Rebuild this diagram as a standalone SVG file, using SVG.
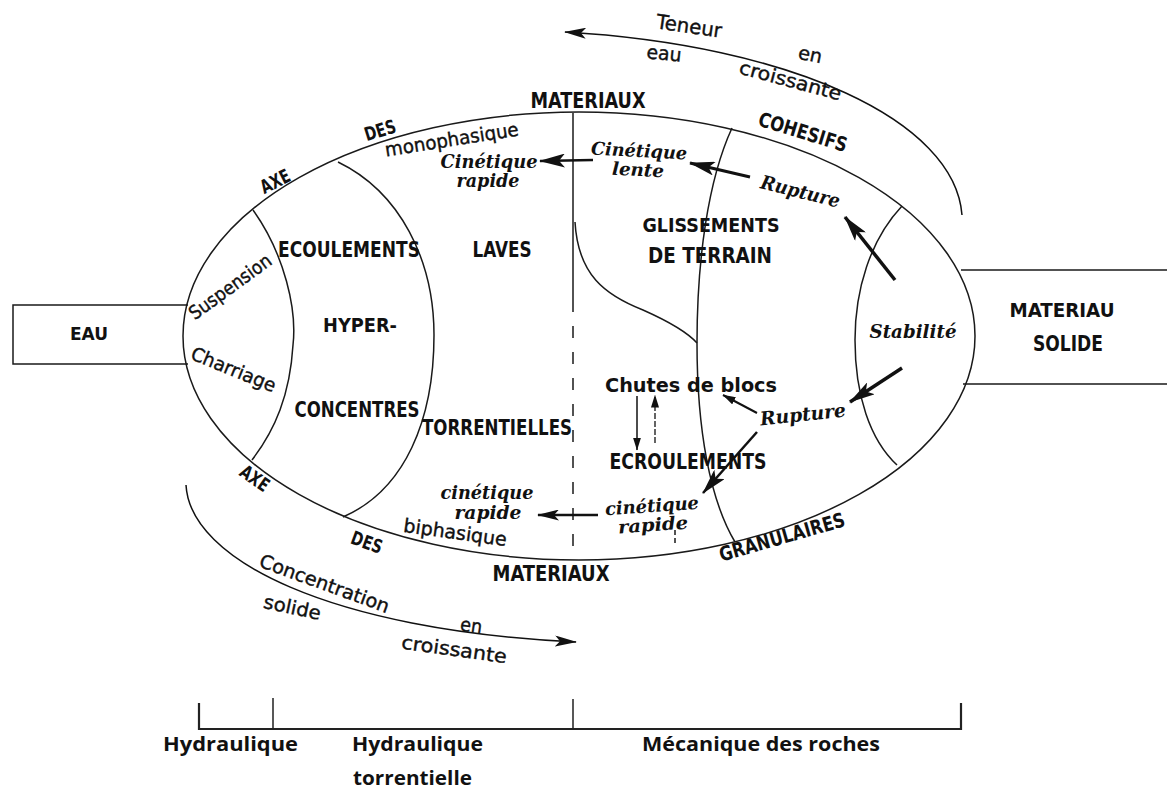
<svg xmlns="http://www.w3.org/2000/svg" width="1167" height="789" viewBox="0 0 1167 789">
<defs>
<style>
.ln{fill:none;stroke:#1a1a1a;stroke-width:1.5}
.ar{fill:none;stroke:#111;stroke-linecap:butt}
.cap{font-family:"DejaVu Sans Condensed","Liberation Sans Narrow","Liberation Sans",sans-serif;font-weight:bold;fill:#111;text-anchor:middle}
.cb{font-family:"DejaVu Sans","Liberation Sans",sans-serif;font-weight:bold;fill:#111;text-anchor:middle}
.scr{font-family:"DejaVu Serif","Liberation Serif",serif;font-style:italic;font-weight:bold;fill:#111;text-anchor:middle}
.hw{font-family:"DejaVu Sans","Liberation Sans",sans-serif;fill:#111;stroke:#111;stroke-width:0.4;text-anchor:middle}
.lab{font-family:"Open Sans","Liberation Sans",sans-serif;font-weight:bold;fill:#111;font-size:19px}
</style>
<marker id="ahm" markerUnits="userSpaceOnUse" viewBox="0 0 22 11" refX="21" refY="5.5" markerWidth="22" markerHeight="11" orient="auto"><path d="M0,0 L22,5.5 L0,11 L5,5.5 z" fill="#111"/></marker>
<marker id="ahb" markerUnits="userSpaceOnUse" viewBox="0 0 26 14" refX="25" refY="7" markerWidth="26" markerHeight="14" orient="auto"><path d="M0,0 L26,7 L0,14 L6,7 z" fill="#111"/></marker>
<marker id="ahs" markerUnits="userSpaceOnUse" viewBox="0 0 13 8" refX="12.5" refY="4" markerWidth="13" markerHeight="8" orient="auto"><path d="M0,0 L13,4 L0,8 z" fill="#111"/></marker>
</defs>
<rect width="1167" height="789" fill="#fff"/>

<g id="frame">
<ellipse class="ln" cx="579" cy="336" rx="396" ry="224"/>
<path class="ln" d="M253,210 C285,255 297,310 293,345 C290,395 275,430 252,460"/>
<path class="ln" d="M338,162 C400,192 434,260 434,335 C434,420 405,490 343,517"/>
<path class="ln" d="M573,113 V300"/>
<path class="ln" d="M573,300 V560" stroke-dasharray="12 14"/>
<path class="ln" d="M575,222 C578,275 605,295 643,310 C670,322 688,333 697,343"/>
<path class="ln" d="M732,128 C708,180 697,260 697,343 C697,430 710,500 735,542"/>
<path class="ln" d="M902,206 C870,240 855,290 855,340 C855,395 870,440 897,465"/>
<path class="ln" d="M675,530 V543" stroke-dasharray="5 3" stroke-width="1"/>
</g>

<g id="eau">
<path class="ln" d="M188,305 H13 V364 H188"/>
<text class="cap" x="89" y="340" font-size="18" textLength="38" lengthAdjust="spacingAndGlyphs">EAU</text>
</g>

<g id="materiau-solide">
<path class="ln" d="M961,270 H1167 M963,384 H1167"/>
<text class="cap" x="1062" y="317" font-size="20" textLength="105" lengthAdjust="spacingAndGlyphs">MATERIAU</text>
<text class="cap" x="1068" y="351" font-size="21" textLength="70" lengthAdjust="spacingAndGlyphs">SOLIDE</text>
</g>

<g id="axe-monophasique">
<text class="cap" transform="translate(275,181) rotate(-27)" y="7" font-size="19" textLength="31" lengthAdjust="spacingAndGlyphs">AXE</text>
<text class="cap" transform="translate(380,130) rotate(-17)" y="7" font-size="19" textLength="32" lengthAdjust="spacingAndGlyphs">DES</text>
<text class="cap" x="588" y="108" font-size="21" textLength="115" lengthAdjust="spacingAndGlyphs">MATERIAUX</text>
<text class="hw" transform="translate(452,141) rotate(-9)" y="5" font-size="19" textLength="135" lengthAdjust="spacingAndGlyphs">monophasique</text>
<text class="cap" transform="translate(803,132) rotate(17)" y="7" font-size="20" textLength="92" lengthAdjust="spacingAndGlyphs">COHESIFS</text>
</g>

<g id="axe-biphasique">
<text class="cap" transform="translate(255,478) rotate(35)" y="7" font-size="19" textLength="31" lengthAdjust="spacingAndGlyphs">AXE</text>
<text class="cap" transform="translate(367,542) rotate(20)" y="7" font-size="19" textLength="32" lengthAdjust="spacingAndGlyphs">DES</text>
<text class="hw" transform="translate(455,534) rotate(8)" y="5" font-size="19" textLength="104" lengthAdjust="spacingAndGlyphs">biphasique</text>
<text class="cap" x="551" y="581" font-size="21" textLength="117" lengthAdjust="spacingAndGlyphs">MATERIAUX</text>
<text class="cap" transform="translate(782,537) rotate(-16)" y="7" font-size="20" textLength="130" lengthAdjust="spacingAndGlyphs">GRANULAIRES</text>
</g>

<g id="suspension-charriage">
<text class="hw" transform="translate(231,288) rotate(-36)" y="5" font-size="19" textLength="97" lengthAdjust="spacingAndGlyphs">Suspension</text>
<text class="hw" transform="translate(233,371) rotate(22)" y="5" font-size="19" textLength="90" lengthAdjust="spacingAndGlyphs">Charriage</text>
</g>

<g id="ecoulements-hyper">
<text class="cap" x="349" y="257" font-size="22" textLength="142" lengthAdjust="spacingAndGlyphs">ECOULEMENTS</text>
<text class="cap" x="360" y="332" font-size="19" textLength="74" lengthAdjust="spacingAndGlyphs">HYPER-</text>
<text class="cap" x="357" y="417" font-size="21" textLength="125" lengthAdjust="spacingAndGlyphs">CONCENTRES</text>
</g>

<g id="laves">
<text class="cap" x="502" y="257" font-size="22" textLength="59" lengthAdjust="spacingAndGlyphs">LAVES</text>
<text class="cap" x="497" y="435" font-size="21" textLength="150" lengthAdjust="spacingAndGlyphs">TORRENTIELLES</text>
</g>

<g id="cinetique-rapide-haut">
<text class="scr" x="489" y="168" font-size="18" textLength="97" lengthAdjust="spacingAndGlyphs">Cinétique</text>
<text class="scr" x="488" y="187" font-size="18" textLength="63" lengthAdjust="spacingAndGlyphs">rapide</text>
</g>

<g id="cinetique-lente">
<text class="scr" transform="translate(639,152) rotate(3)" y="5" font-size="18" textLength="96" lengthAdjust="spacingAndGlyphs">Cinétique</text>
<text class="scr" transform="translate(638,171) rotate(3)" y="5" font-size="18" textLength="52" lengthAdjust="spacingAndGlyphs">lente</text>
</g>

<g id="rupture-haut">
<text class="scr" transform="translate(800,193) rotate(14)" y="5" font-size="19" textLength="81" lengthAdjust="spacingAndGlyphs">Rupture</text>
</g>

<g id="glissements">
<text class="cap" x="711" y="232" font-size="20" textLength="137" lengthAdjust="spacingAndGlyphs">GLISSEMENTS</text>
<text class="cap" x="710" y="263" font-size="21" textLength="124" lengthAdjust="spacingAndGlyphs">DE TERRAIN</text>
</g>

<g id="stabilite">
<text class="scr" x="913" y="338" font-size="19" textLength="87" lengthAdjust="spacingAndGlyphs">Stabilité</text>
</g>

<g id="chutes">
<text class="cb" x="691" y="392" font-size="20" textLength="172" lengthAdjust="spacingAndGlyphs">Chutes de blocs</text>
</g>

<g id="rupture-bas">
<text class="scr" transform="translate(803,416) rotate(-6)" y="5" font-size="19" textLength="86" lengthAdjust="spacingAndGlyphs">Rupture</text>
</g>

<g id="ecroulements">
<text class="cap" x="688" y="469" font-size="22" textLength="157" lengthAdjust="spacingAndGlyphs">ECROULEMENTS</text>
</g>

<g id="cinetique-rapide-droite">
<text class="scr" transform="translate(652,507) rotate(-4)" y="5" font-size="18" textLength="94" lengthAdjust="spacingAndGlyphs">cinétique</text>
<text class="scr" transform="translate(653,526) rotate(-4)" y="5" font-size="18" textLength="70" lengthAdjust="spacingAndGlyphs">rapide</text>
</g>

<g id="cinetique-rapide-bas">
<text class="scr" x="487" y="499" font-size="18" textLength="93" lengthAdjust="spacingAndGlyphs">cinétique</text>
<text class="scr" x="488" y="519" font-size="18" textLength="67" lengthAdjust="spacingAndGlyphs">rapide</text>
</g>

<g id="teneur-eau">
<text class="hw" transform="translate(689,27) rotate(8)" y="6" font-size="20" textLength="66" lengthAdjust="spacingAndGlyphs">Teneur</text>
<text class="hw" transform="translate(664,55) rotate(6)" y="5" font-size="19" textLength="35" lengthAdjust="spacingAndGlyphs">eau</text>
<text class="hw" transform="translate(810,56) rotate(12)" y="5" font-size="19" textLength="24" lengthAdjust="spacingAndGlyphs">en</text>
<text class="hw" transform="translate(790,82) rotate(15)" y="5" font-size="19" textLength="105" lengthAdjust="spacingAndGlyphs">croissante</text>
</g>

<g id="concentration-solide">
<text class="hw" transform="translate(324,585) rotate(20)" y="5" font-size="19" textLength="137" lengthAdjust="spacingAndGlyphs">Concentration</text>
<text class="hw" transform="translate(292,609) rotate(12)" y="5" font-size="19" textLength="58" lengthAdjust="spacingAndGlyphs">solide</text>
<text class="hw" transform="translate(471,627) rotate(8)" y="5" font-size="19" textLength="22" lengthAdjust="spacingAndGlyphs">en</text>
<text class="hw" transform="translate(454,651) rotate(8)" y="5" font-size="19" textLength="106" lengthAdjust="spacingAndGlyphs">croissante</text>
</g>

<g id="connectors">
<path class="ar" stroke-width="1.5" d="M962,215 C955,120 790,45 565,32" marker-end="url(#ahm)"/>
<path class="ar" stroke-width="1.5" d="M186,485 C190,560 330,630 576,642" marker-end="url(#ahm)"/>
<path class="ar" stroke-width="2.5" d="M593,160 L540,161" marker-end="url(#ahb)"/>
<path class="ar" stroke-width="3" d="M750,177 L690,163" marker-end="url(#ahb)"/>
<path class="ar" stroke-width="3.5" d="M895,280 L845,217" marker-end="url(#ahb)"/>
<path class="ar" stroke-width="3.5" d="M902,368 L850,402" marker-end="url(#ahb)"/>
<path class="ar" stroke-width="2" d="M757,413 L723,395" marker-end="url(#ahs)"/>
<path class="ar" stroke-width="2.5" d="M757,432 L703,493" marker-end="url(#ahb)"/>
<path class="ar" stroke-width="1.5" d="M637,396 L637,450" marker-end="url(#ahs)"/>
<path class="ar" stroke-width="1.3" stroke-dasharray="6 2" d="M655,443 L655,395" marker-end="url(#ahs)"/>
<path class="ar" stroke-width="2.5" d="M598,515 L538,515" marker-end="url(#ahm)"/>
</g>

<g id="echelle">
<path fill="none" stroke="#222" stroke-width="2.2" d="M199,703 V729 H961 V703"/>
<path fill="none" stroke="#222" stroke-width="1.5" d="M273,698 V729 M573,699 V729"/>
<text class="lab" x="163" y="751" textLength="135" lengthAdjust="spacingAndGlyphs">Hydraulique</text>
<text class="lab" x="352" y="751" textLength="131" lengthAdjust="spacingAndGlyphs">Hydraulique</text>
<text class="lab" x="353" y="785" textLength="119" lengthAdjust="spacingAndGlyphs">torrentielle</text>
<text class="lab" x="642" y="751" textLength="238" lengthAdjust="spacingAndGlyphs">Mécanique des roches</text>
</g>
</svg>
